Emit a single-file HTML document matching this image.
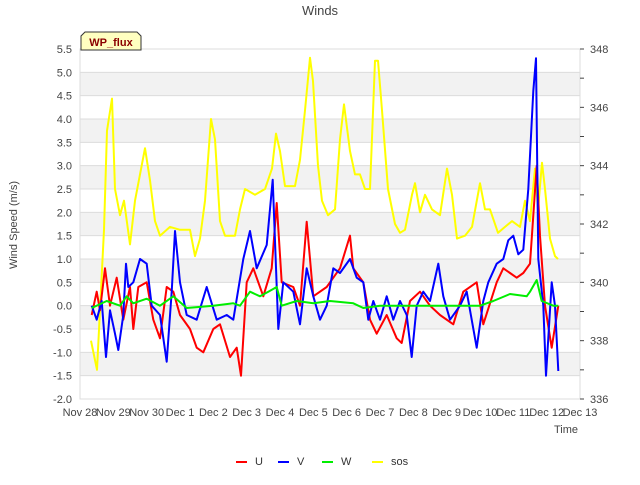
<!DOCTYPE html>
<html><head><meta charset="utf-8"><style>
body{margin:0;background:#fff;}
svg{font-family:"Liberation Sans",sans-serif;}
</style></head><body>
<svg id="chart" width="640" height="480" viewBox="0 0 640 480">
<g id="bands"></g>
<g id="grid"></g>
<g id="series"></g>
<g id="axes"></g>
<text x="320" y="15" text-anchor="middle" font-size="13" fill="#444">Winds</text>
<text transform="translate(17,225) rotate(-90)" text-anchor="middle" font-size="11" fill="#444">Wind Speed (m/s)</text>
<text x="566" y="433" text-anchor="middle" font-size="11" fill="#444">Time</text>
<g>
<path d="M81,50 L81,36 L85,32 L137,32 L141,36 L141,50 Z" fill="#ffffc0" stroke="#333" stroke-width="1"/>
<text x="111" y="46" text-anchor="middle" font-size="11" font-weight="bold" fill="#8b0000">WP_flux</text>
</g>
<g id="legend"></g>
</svg>
<script>
const uT=[0.35,0.5,0.6,0.75,0.9,1.1,1.3,1.5,1.6,1.75,2.0,2.2,2.4,2.6,2.8,3.0,3.3,3.5,3.7,4.0,4.2,4.5,4.7,4.83,5.0,5.2,5.5,5.75,5.9,6.05,6.4,6.6,6.8,7.0,7.4,7.6,7.8,8.1,8.2,8.5,8.7,8.9,9.2,9.5,9.65,9.9,10.2,10.5,10.8,11.2,11.5,11.9,12.1,12.5,12.7,12.9,13.1,13.3,13.5,13.7,13.8,13.95,14.15,14.35];
const uV=[-0.2,0.3,-0.1,0.8,0.0,0.6,-0.3,0.4,-0.5,0.4,0.5,-0.3,-0.7,0.4,0.3,-0.2,-0.5,-0.9,-1.0,-0.5,-0.4,-1.1,-0.9,-1.5,0.5,0.8,0.2,0.8,2.2,0.5,0.4,0.0,1.8,0.2,0.4,0.6,0.8,1.5,0.8,0.5,-0.3,-0.6,-0.2,-0.7,-0.8,0.1,0.3,0.0,-0.2,-0.4,0.3,0.5,-0.4,0.5,0.8,0.7,0.6,0.7,0.9,3.0,1.5,0.0,-0.9,0.0];
const vT=[0.35,0.5,0.65,0.78,0.9,1.05,1.15,1.3,1.38,1.45,1.6,1.8,2.0,2.15,2.4,2.6,2.75,2.85,3.0,3.2,3.5,3.8,4.1,4.4,4.6,4.9,5.1,5.3,5.6,5.78,5.95,6.1,6.4,6.6,6.8,7.0,7.2,7.4,7.6,7.8,8.1,8.3,8.5,8.65,8.8,9.0,9.2,9.4,9.6,9.8,9.95,10.1,10.3,10.5,10.75,10.9,11.1,11.4,11.6,11.9,12.1,12.25,12.5,12.7,12.85,13.0,13.15,13.3,13.45,13.6,13.68,13.75,13.9,13.98,14.15,14.25,14.35];
const vV=[0,-0.3,0.1,-1.1,-0.1,-0.6,-0.95,-0.2,0.9,0.4,0.5,1.0,0.9,0.0,-0.2,-1.2,0.3,1.6,0.5,-0.2,-0.3,0.4,-0.3,-0.2,-0.3,1.0,1.6,0.8,1.3,2.7,-0.5,0.5,0.3,-0.4,0.8,0.2,-0.3,0.0,0.8,0.7,1.0,0.6,0.5,-0.3,0.1,-0.3,0.2,-0.3,0.1,-0.2,-1.1,0.0,0.3,0.1,0.9,0.2,-0.3,0.0,0.3,-0.9,0.1,0.5,0.9,1.0,1.4,1.5,1.1,1.2,2.5,4.6,5.3,1.0,0.0,-1.5,0.5,0.0,-1.4];
const wT=[0.35,0.8,1.2,1.4,1.6,2.0,2.4,2.8,3.2,4.0,4.6,4.8,5.1,5.4,5.65,5.9,6.05,6.5,7.0,7.5,8.2,8.5,9.0,10.0,11.0,12.0,12.4,12.9,13.4,13.5,13.7,13.85,14.2,14.35];
const wV=[-0.05,0.1,0.0,0.2,0.05,0.15,0.0,0.2,-0.05,0.0,0.05,0.0,0.3,0.2,0.3,0.4,0.0,0.1,0.05,0.1,0.05,-0.05,0.0,0.0,0.0,0.0,0.1,0.25,0.2,0.3,0.55,0.1,0.0,0.0];
const sT=[0.33,0.51,0.72,0.81,0.96,1.05,1.2,1.32,1.5,1.65,1.95,2.1,2.25,2.4,2.7,3.0,3.3,3.45,3.6,3.75,3.93,4.05,4.2,4.35,4.65,4.8,4.95,5.25,5.55,5.76,5.88,6.0,6.15,6.45,6.6,6.75,6.9,6.99,7.14,7.26,7.44,7.65,7.8,7.92,8.1,8.25,8.4,8.55,8.7,8.85,8.94,9.06,9.24,9.45,9.6,9.75,9.96,10.05,10.2,10.35,10.56,10.8,11.01,11.16,11.31,11.55,11.76,12.0,12.15,12.3,12.54,12.75,12.96,13.2,13.35,13.5,13.65,13.74,13.86,13.95,14.1,14.25,14.34];
const sV=[338.0,337.0,341.8,345.2,346.3,343.2,342.3,342.8,341.3,342.8,344.6,343.5,342.1,341.6,341.9,341.8,341.8,340.9,341.5,342.8,345.6,344.9,342.1,341.6,341.6,342.5,343.2,343.0,343.2,343.9,345.1,344.5,343.3,343.3,344.2,345.9,347.7,346.9,344.0,342.8,342.3,342.5,344.9,346.1,344.5,343.7,343.7,343.2,343.2,347.6,347.6,345.9,343.2,342.0,341.7,341.8,343.0,343.4,342.4,343.0,342.5,342.3,343.9,343.0,341.5,341.6,341.9,343.4,342.5,342.5,341.7,341.9,342.1,341.9,342.8,342.1,343.9,342.5,344.1,343.2,341.5,340.9,340.8];
const xTicks=["Nov 28","Nov 29","Nov 30","Dec 1","Dec 2","Dec 3","Dec 4","Dec 5","Dec 6","Dec 7","Dec 8","Dec 9","Dec 10","Dec 11","Dec 12","Dec 13"];
const yTicks=[-2.0,-1.5,-1.0,-0.5,0.0,0.5,1.0,1.5,2.0,2.5,3.0,3.5,4.0,4.5,5.0,5.5];
const y2Ticks=[336,338,340,342,344,346,348];

const L=80,R=580,T=49,B=399;
const X=t=>L+(t/15)*(R-L);
const Y=v=>T+(5.5-v)/7.5*(B-T);
const Y2=v=>T+(348-v)/12*(B-T);
const NS="http://www.w3.org/2000/svg";
function mk(tag,attrs,parent){const e=document.createElementNS(NS,tag);for(const k in attrs)e.setAttribute(k,attrs[k]);parent.appendChild(e);return e;}
const bands=document.getElementById('bands'),grid=document.getElementById('grid'),axes=document.getElementById('axes'),series=document.getElementById('series'),legend=document.getElementById('legend');
for(let i=0;i<yTicks.length-1;i++){
  if(i%2===1||i===yTicks.length-2&&false){}
}
// gray bands: -1.5..-1.0, -0.5..0, 0.5..1.0, ...
for(let i=1;i<yTicks.length-1;i+=2){
  const r=mk('rect',{x:L,y:Y(yTicks[i+1]),width:R-L,height:Y(yTicks[i])-Y(yTicks[i+1]),fill:'#f2f2f2'},bands);
  
  
}
yTicks.forEach(v=>{
  const l=mk('line',{x1:L,x2:R,y1:Y(v),y2:Y(v),stroke:'#dcdcdc','stroke-width':1},grid);
  
  
  const t=mk('text',{x:L-8,y:Y(v)+4,'text-anchor':'end','font-size':11,fill:'#444'},axes);
  
  
  t.textContent=v.toFixed(1);
});
mk('rect',{x:L,y:T,width:R-L,height:B-T,fill:'none',stroke:'#dcdcdc'},grid);
xTicks.forEach((s,i)=>{
  const t=mk('text',{x:X(i),y:B+17,'text-anchor':'middle','font-size':11,fill:'#444'},axes);
  
  
  t.textContent=s;
});
for(let v=336;v<=348;v++){
  const tk=mk('line',{x1:R,x2:R+4,y1:Y2(v),y2:Y2(v),stroke:'#444'},axes);
  
  
}
y2Ticks.forEach(v=>{
  const t=mk('text',{x:R+10,y:Y2(v)+4,'font-size':11,fill:'#444'},axes);
  
  
  t.textContent=v;
});
function line(ts,vs,yf,color,name){
  const n=Math.min(ts.length,vs.length);let d='';
  for(let i=0;i<n;i++)d+=(i?'L':'M')+X(ts[i]).toFixed(1)+','+yf(vs[i]).toFixed(1);
  const p=mk('path',{d:d,fill:'none',stroke:color,'stroke-width':2,'stroke-linejoin':'round'},series);
  
  
}
line(sT,sV,Y2,'#ffff00','sos-line');
line(uT,uV,Y,'#ff0000','u-line');
line(vT,vV,Y,'#0000ff','v-line');
line(wT,wV,Y,'#00ee00','w-line');
const leg=[['U','#ff0000',236],['V','#0000ff',278],['W','#00ee00',322],['sos','#ffff00',372]];
leg.forEach(([n,c,x])=>{
  const g=mk('g',{},legend);
  
  
  mk('line',{x1:x,x2:x+11,y1:462,y2:462,stroke:c,'stroke-width':2},g);
  const t=mk('text',{x:x+19,y:465,'font-size':11,fill:'#333'},g);
  t.textContent=n;
});
</script>
</body></html>
